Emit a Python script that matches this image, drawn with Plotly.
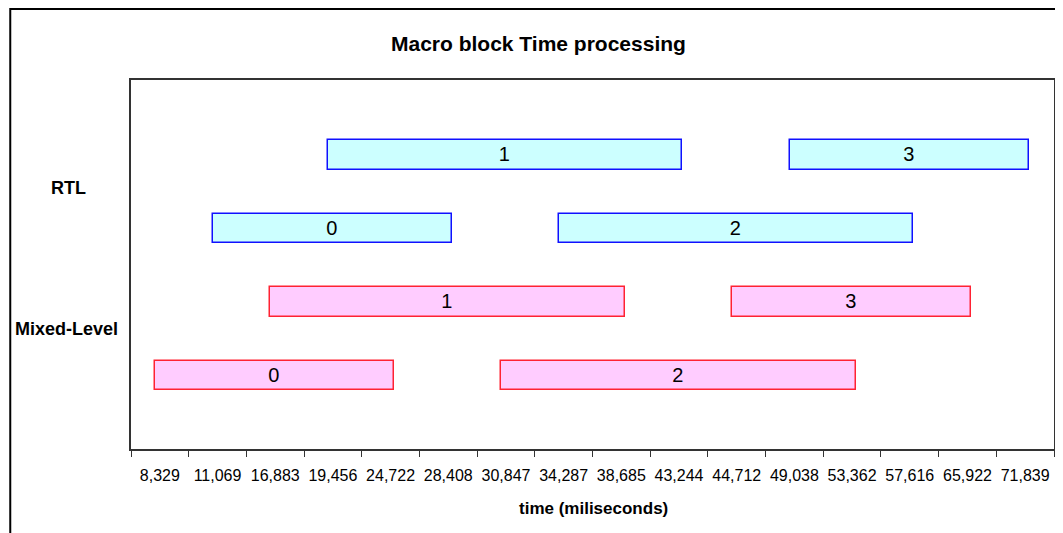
import numpy as np
import plotly.graph_objects as go

# ---- data ----
tick_times = [8329, 11069, 16883, 19456, 24722, 28408, 30847, 34287,
              38685, 43244, 44712, 49038, 53362, 57616, 65922, 71839]
block_ids = ["0", "1", "2", "3"]
rtl_start = [11069, 19456, 34287, 49038]
rtl_end = [28408, 43244, 57616, 71839]
mixed_start = [8329, 16883, 30847, 44712]
mixed_end = [24722, 38685, 53362, 65922]
series_names = ["RTL", "Mixed-Level"]
title_text = "Macro block Time processing"
x_title = "time (miliseconds)"

FONT = "Liberation Sans, Arial, sans-serif"
tick_idx = np.arange(len(tick_times))
PAD_L, PAD_R = 0.085, 0.06


def to_pos(t):
    return np.interp(t, tick_times, tick_idx)


fig = go.Figure()

def add_series(starts, ends, row_base, fill, edge, name):
    s = to_pos(np.array(starts)) - PAD_L
    e = to_pos(np.array(ends)) + PAD_R
    rows = [row_base + (i % 2) for i in range(len(starts))]
    fig.add_trace(go.Bar(
        orientation="h", y=rows, base=s, x=e - s, width=0.4,
        marker=dict(color=fill, line=dict(color=edge, width=1.5)),
        text=block_ids, textposition="inside", insidetextanchor="middle",
        textangle=0, constraintext="none",
        textfont=dict(family=FONT, size=20, color="black"),
        name=name, showlegend=False, hoverinfo="skip"))

add_series(mixed_start, mixed_end, 0, "#FFCCFF", "#FF2233", series_names[1])
add_series(rtl_start, rtl_end, 2, "#CCFFFF", "#1010FF", series_names[0])

# page offset of the figure inside the browser page (body margin)
OFF = 8
PL, PT, W, H = 131, 80, 925, 369   # plot area in page pixels
FW, FH = 1063 - OFF, 533 - OFF
L, T = PL - OFF, PT - OFF

def px_x(p):
    return (p - PL) / W

def px_y(p):
    return (PT + H - p) / H

annotations = [
    dict(text="<b>%s</b>" % title_text, x=px_x(539), y=px_y(43), xref="paper", yref="paper",
         xanchor="center", yanchor="middle", showarrow=False,
         font=dict(family=FONT, size=21, color="black")),
    dict(text="<b>%s</b>" % x_title, x=px_x(595), y=px_y(508), xref="paper", yref="paper",
         xanchor="center", yanchor="middle", showarrow=False,
         font=dict(family=FONT, size=17, color="black")),
    dict(text="<b>%s</b>" % series_names[0], x=px_x(68), y=px_y(188), xref="paper", yref="paper",
         xanchor="center", yanchor="middle", showarrow=False,
         font=dict(family=FONT, size=18, color="black")),
    dict(text="<b>%s</b>" % series_names[1], x=px_x(66), y=px_y(329), xref="paper", yref="paper",
         xanchor="center", yanchor="middle", showarrow=False,
         font=dict(family=FONT, size=18, color="black")),
]

shapes = [
    dict(type="rect", xref="paper", yref="paper",
         x0=px_x(10), x1=px_x(1080), y0=px_y(9), y1=px_y(560),
         line=dict(color="black", width=2), fillcolor="rgba(0,0,0,0)", layer="below"),
]

fig.update_layout(
    width=FW, height=FH,
    margin=dict(l=L, r=FW - L - W, t=T, b=FH - T - H, pad=0),
    paper_bgcolor="white", plot_bgcolor="white",
    bargap=0, barmode="overlay",
    annotations=annotations, shapes=shapes,
    font=dict(family=FONT, color="black"),
    xaxis=dict(
        range=[-0.5, len(tick_times) - 0.5],
        tickmode="array", tickvals=list(tick_idx),
        ticktext=[f"{t:,}" for t in tick_times],
        ticks="", ticklabelstandoff=11,
        tickfont=dict(family=FONT, size=16, color="black"),
        minor=dict(tickmode="array", tickvals=[i - 0.5 for i in range(len(tick_times) + 1)],
                   ticks="outside", ticklen=6, tickcolor="#333", tickwidth=1, showgrid=False),
        showgrid=False, zeroline=False,
        showline=True, linecolor="#333", linewidth=1.5, mirror=True,
    ),
    yaxis=dict(
        range=[-1.0, 4.02], showticklabels=False, ticks="",
        showgrid=False, zeroline=False,
        showline=True, linecolor="#333", linewidth=1.5, mirror=True,
    ),
)

fig.write_html("out.html")
